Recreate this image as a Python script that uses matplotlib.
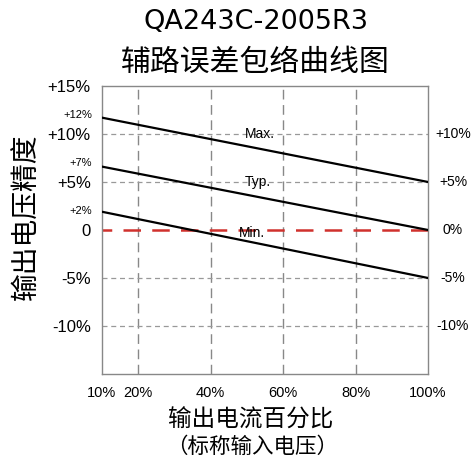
import matplotlib
matplotlib.use("Agg")
import matplotlib.pyplot as plt

# Data
x_pct = [10, 100]
max_line = [11.7, 5]
typ_line = [6.6, 0]
min_line = [1.9, -5]
start_labels = ["+12%", "+7%", "+2%"]
start_label_vals = [12, 7, 2]
left_ticks = [15, 10, 5, 0, -5, -10]
left_ticklabels = ["+15%", "+10%", "+5%", "0", "-5%", "-10%"]
right_ticks = [10, 5, 0, -5, -10]
right_ticklabels = ["+10%", "+5%", "0%", "-5%", "-10%"]
x_ticks = [10, 20, 40, 60, 80, 100]
x_ticklabels = ["10%", "20%", "40%", "60%", "80%", "100%"]
vgrid = [20, 40, 60, 80]
hgrid = [10, 5, -5, -10]
curve_names = ["Max.", "Typ.", "Min."]
curve_name_pos = [(53.5, 10), (53, 5), (51.5, -0.3)]

LAT = ["Liberation Sans", "DejaVu Sans"]
CJK = ["Noto Sans CJK SC", "DejaVu Sans"]

fig = plt.figure(figsize=(4.77, 4.65), dpi=100)
ax = fig.add_axes([0.2138, 0.1957, 0.6835, 0.6194])
ax.set_xlim(10, 100)
ax.set_ylim(-15, 15)

for v in vgrid:
    ax.axvline(v, color="#888888", lw=1.0, ls=(0, (7, 4)), zorder=1)
for h in hgrid:
    ax.axhline(h, color="#999999", lw=0.9, ls=(0, (4, 3)), zorder=1)
# zero reference line, dash pattern anchored at the right edge
ax.plot([1, 0], [0, 0], transform=ax.get_yaxis_transform(),
        color="#d0312d", lw=1.8, ls=(0, (7, 4.5)), zorder=2)

for ys in (max_line, typ_line, min_line):
    ax.plot(x_pct, ys, color="black", lw=1.6, zorder=3)

for name, (xx, yy) in zip(curve_names, curve_name_pos):
    ax.text(xx, yy, name, ha="center", va="center", fontsize=10, family=LAT, zorder=4)

for s in ax.spines.values():
    s.set_color("#888888")
    s.set_linewidth(1.0)

ax.set_yticks(left_ticks)
ax.set_yticklabels(left_ticklabels, family=LAT, fontsize=12)
ax.tick_params(axis="y", length=0, pad=8)
ax.set_xticks(x_ticks)
ax.set_xticklabels(x_ticklabels, family=LAT, fontsize=10.5)
ax.tick_params(axis="x", length=0, pad=9)

for lab, v in zip(start_labels, start_label_vals):
    ax.annotate(lab, xy=(0, v), xycoords=("axes fraction", "data"),
                xytext=(-7, 0), textcoords="offset points",
                ha="right", va="center", fontsize=8, family=LAT)

for lab, v in zip(right_ticklabels, right_ticks):
    ax.annotate(lab, xy=(1, v), xycoords=("axes fraction", "data"),
                xytext=(18, 0), textcoords="offset points",
                ha="center", va="center", fontsize=10, family=LAT)

fig.text(256 / 477, 1 - 22 / 465, "QA243C-2005R3", ha="center", va="center",
         fontsize=19.5, family=["DejaVu Sans"])
fig.text(255 / 477, 1 - 62 / 465, "辅路误差包络曲线图", ha="center", va="center",
         fontsize=21.5, family=CJK)
fig.text(27 / 477, 1 - 217 / 465, "输出电压精度", ha="center", va="center",
         rotation=90, fontsize=20, family=CJK)
fig.text(251 / 477, 1 - 420 / 465, "输出电流百分比", ha="center", va="center",
         fontsize=17, family=CJK)
fig.text(252 / 477, 1 - 447 / 465, "（标称输入电压）", ha="center", va="center",
         fontsize=15.5, family=CJK)

fig.savefig("out.png", dpi=100)
